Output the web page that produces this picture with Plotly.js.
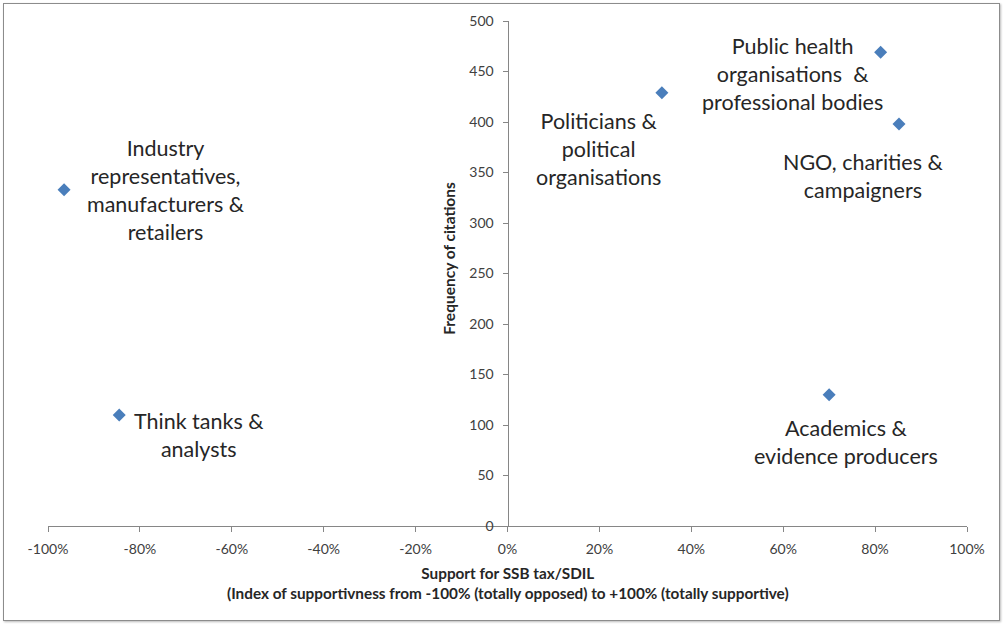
<!DOCTYPE html>
<html>
<head>
<meta charset="utf-8">
<script src="https://cdn.plot.ly/plotly-3.0.1.min.js"></script>
<style>
html,body{margin:0;padding:0;background:#fff;}
#frame{position:absolute;left:3px;top:3px;width:995px;height:616px;border:1px solid #8c8c8c;box-shadow:1px 1px 2px #bbb;}
#chart{position:absolute;left:0;top:0;width:1003px;height:624px;}
</style>
</head>
<body>
<div id="frame"></div>
<div id="chart"></div>
<script>
const groups = [
  "Industry<br>representatives,<br>manufacturers &<br>retailers",
  "Think tanks &<br>analysts",
  "Politicians &<br>political<br>organisations",
  "Public health<br>organisations  &<br>professional bodies",
  "NGO, charities &<br>campaigners",
  "Academics &<br>evidence producers"
];
const support = [-0.965, -0.845, 0.336, 0.812, 0.852, 0.70];
const citations = [333, 110, 429, 469, 398, 130];
const xTickVals = [-1, -0.8, -0.6, -0.4, -0.2, 0, 0.2, 0.4, 0.6, 0.8, 1];
const xTickText = ["-100%", "-80%", "-60%", "-40%", "-20%", "0%", "20%", "40%", "60%", "80%", "100%"];
const yTickVals = [0, 50, 100, 150, 200, 250, 300, 350, 400, 450, 500];

// label offsets in pixels relative to each point (layout only)
const labelShift = [[102, 0], [80, -20], [-63, -56], [-88, -22], [-36, -52], [17, -47]];

const font = "Lato, 'Open Sans', sans-serif";
const axisColor = "#868686";
const textColor = "#262626";

const trace = {
  x: support, y: citations, type: "scatter", mode: "markers",
  marker: {symbol: "diamond", size: 10, color: "#4a7ebb"},
  hoverinfo: "skip", showlegend: false
};

const annotations = groups.map((g, i) => ({
  x: support[i], y: citations[i], xref: "x", yref: "y",
  text: g, showarrow: false, xanchor: "center", yanchor: "middle",
  xshift: labelShift[i][0], yshift: labelShift[i][1],
  font: {family: font, size: 21.5, color: textColor}, align: "center"
}));
annotations.push({
  xref: "paper", yref: "paper", x: 0.5, y: -0.072, yanchor: "top", xanchor: "center",
  showarrow: false, align: "center",
  text: "<b>Support for SSB tax/SDIL</b><br><b>(Index of supportivness from -100% (totally opposed) to +100% (totally supportive)</b>",
  font: {family: font, size: 15.3, color: textColor}
});
annotations.push({
  xref: "paper", yref: "paper", x: 0.5, xshift: -58, y: 0.53, xanchor: "center", yanchor: "middle",
  showarrow: false, textangle: -90,
  text: "<b>Frequency of citations</b>",
  font: {family: font, size: 15.5, color: textColor}
});

const layout = {
  width: 1003, height: 624,
  margin: {l: 48, r: 36, t: 21, b: 98},
  paper_bgcolor: "rgba(0,0,0,0)", plot_bgcolor: "rgba(0,0,0,0)",
  font: {family: font, color: "#404040"},
  xaxis: {
    range: [-1, 1], tickvals: xTickVals, ticktext: xTickText,
    showgrid: false, zeroline: false, showline: true, linecolor: axisColor, linewidth: 1,
    ticks: "outside", ticklen: 5, tickcolor: axisColor, ticklabelstandoff: 5,
    tickfont: {family: font, size: 14, color: "#404040"}, fixedrange: true
  },
  yaxis: {
    range: [0, 500], tickvals: yTickVals, anchor: "free", position: 0.5,
    showgrid: false, zeroline: false, showline: true, linecolor: axisColor, linewidth: 1,
    ticks: "outside", ticklen: 5, tickcolor: axisColor, ticklabelstandoff: 6,
    tickfont: {family: font, size: 14, color: "#404040"}, fixedrange: true
  },
  annotations: annotations
};

Plotly.newPlot("chart", [trace], layout, {displayModeBar: false, staticPlot: true});
</script>
</body>
</html>
